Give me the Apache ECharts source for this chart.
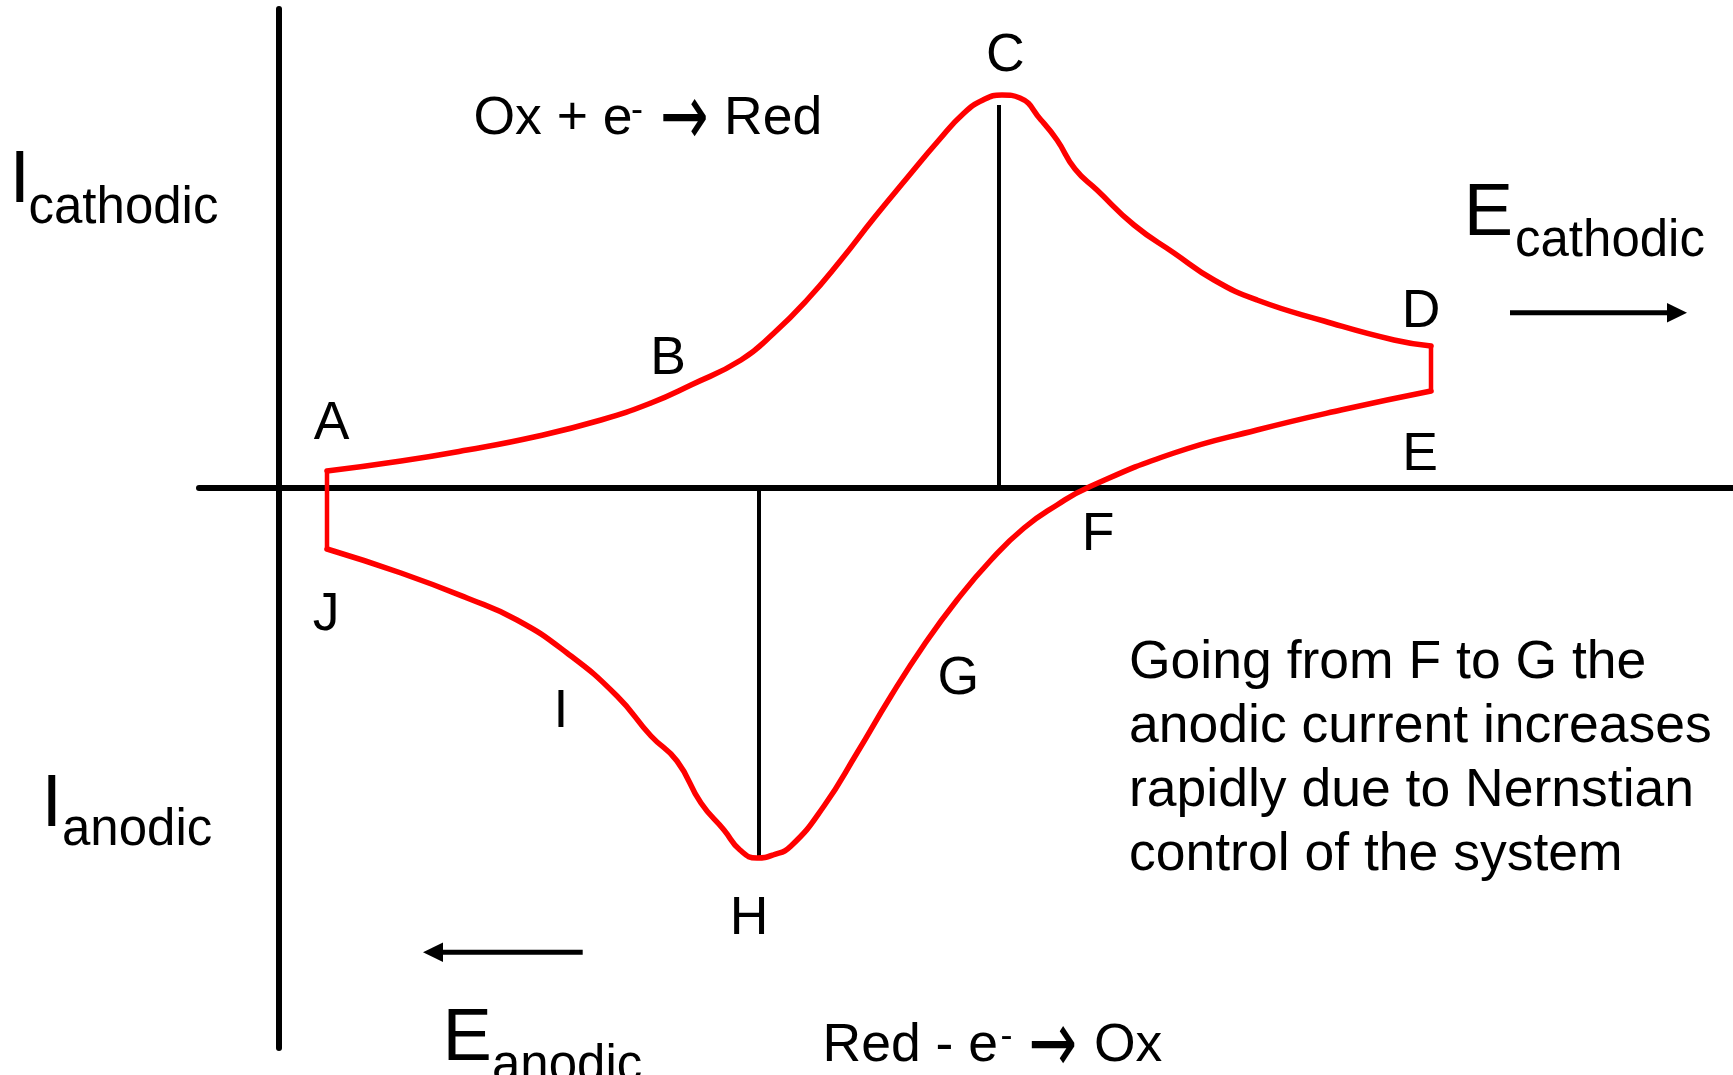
<!DOCTYPE html>
<html>
<head>
<meta charset="utf-8">
<title>Cyclic voltammogram</title>
<script src="https://cdn.jsdelivr.net/npm/echarts@6/dist/echarts.min.js"></script>
<style>
  * { margin: 0; padding: 0; }
  html, body { width: 1733px; height: 1075px; background: #fff; overflow: hidden; }
  #main { width: 1733px; height: 1075px; }
</style>
</head>
<body>
<div id="main"></div>
<script>
// potential (E) and current (I), arbitrary units
const forwardE = [4.8, 12.2, 18.8, 25.5, 32.2, 37.2, 41.2, 46.2, 49.5, 52.8, 56.2, 59.5, 62.8, 66.0, 68.4, 70.4, 72.3, 74.1, 76.2, 77.8, 79.6, 81.8, 85.5, 89.5, 93.5, 97.8, 104.5, 111.5, 115.2]
const forwardI = [1.7, 2.7, 3.8, 5.1, 6.8, 8.5, 10.3, 12.8, 15.5, 18.8, 22.8, 27.0, 31.0, 34.8, 37.4, 38.8, 39.3, 39.0, 36.8, 34.8, 31.9, 29.8, 26.3, 23.5, 20.8, 18.8, 16.7, 14.8, 14.2]
const reverseE = [115.2, 106.2, 97.8, 89.5, 80.8, 77.8, 74.5, 71.2, 67.8, 64.5, 61.2, 57.8, 54.5, 51.2, 49.4, 47.8, 46.1, 44.5, 42.2, 39.8, 37.2, 33.8, 28.8, 23.8, 18.8, 12.2, 4.8]
const reverseI = [9.7, 7.8, 5.8, 3.5, 0.0, -1.7, -4.0, -7.2, -11.2, -15.7, -20.8, -26.5, -31.8, -35.8, -36.7, -37.0, -36.2, -34.2, -31.5, -27.3, -24.8, -20.8, -16.5, -13.2, -11.0, -8.5, -6.1]
// peak markers: [E, I at the peak]
const cathodicPeak = [72.0, 38.3]
const anodicPeak = [48.0, -36.8]

const FONT = '"Liberation Sans", Arial, sans-serif'
const RED = '#ff0000'

const zip = (xs, ys) => xs.map((x, i) => [x, ys[i]])
const forward = zip(forwardE, forwardI)
const reverse = zip(reverseE, reverseI)

// text helper: y is the middle line, baseline sits ~0.35em (+4px) below it
const txt = (x, y, s, fs, align, family) => ({
  type: 'text',
  x: x,
  y: y + 4,
  style: { text: s, fontSize: fs, fontFamily: family || FONT, fill: '#000', align: align || 'left', verticalAlign: 'middle' }
})

// the reaction arrows are a bit taller than the font's own glyph
const arrowGlyph = (x, y) => Object.assign(txt(x, y, '→', 58, 'center', '"DejaVu Sans", sans-serif'), { scaleY: 1.5 })

const letters = [
  txt(331.7, 419.9, 'A', 53.5, 'center'),
  txt(668, 355.6, 'B', 53.5, 'center'),
  txt(1005.3, 52.2, 'C', 53.5, 'center'),
  txt(1421, 308.3, 'D', 53.5, 'center'),
  txt(1420, 451.6, 'E', 53.5, 'center'),
  txt(1098, 530.9, 'F', 53.5, 'center'),
  txt(958.3, 674.9, 'G', 53.5, 'center'),
  txt(749, 914.8, 'H', 53.5, 'center'),
  txt(561, 708.3, 'I', 53.5, 'center'),
  txt(326, 611.6, 'J', 53.5, 'center')
]

const labels = [
  txt(9.6, 177.4, 'I', 74), txt(28.5, 204.7, 'cathodic', 51),
  txt(41.6, 801.6, 'I', 74), txt(62, 827.3, 'anodic', 51),
  txt(1463.7, 210.3, 'E', 74), txt(1515, 237.5, 'cathodic', 51),
  txt(442.5, 1035.4, 'E', 74), txt(492, 1062.7, 'anodic', 51),
  // Ox + e- -> Red
  txt(473.5, 115.6, 'Ox + e', 53.5), txt(631, 106.9, '-', 36),
  arrowGlyph(684.4, 118), txt(724, 115.6, 'Red', 53.5),
  // Red - e- -> Ox
  txt(822.5, 1042.7, 'Red - e', 53.5), txt(1000.5, 1033.1, '-', 36),
  arrowGlyph(1052.8, 1045), txt(1094, 1042.7, 'Ox', 53.5),
  {
    type: 'text',
    x: 1129,
    y: 631.8,
    style: {
      text: 'Going from F to G the\nanodic current increases\nrapidly due to Nernstian\ncontrol of the system',
      fontSize: 53.5, lineHeight: 63.7, fontFamily: FONT, fill: '#000', align: 'left', verticalAlign: 'top'
    }
  }
]

const arrows = [
  { type: 'line', shape: { x1: 1510, y1: 312.7, x2: 1670, y2: 312.7 }, style: { stroke: '#000', lineWidth: 5 } },
  { type: 'polygon', shape: { points: [[1667, 303], [1687, 312.7], [1667, 322.4]] }, style: { fill: '#000' } },
  { type: 'line', shape: { x1: 582.7, y1: 952.3, x2: 440, y2: 952.3 }, style: { stroke: '#000', lineWidth: 5 } },
  { type: 'polygon', shape: { points: [[443, 942.6], [423, 952.3], [443, 962]] }, style: { fill: '#000' } }
]

const myChart = echarts.init(document.getElementById('main'), null, { renderer: 'canvas' })

const axisStyle = {
  type: 'value',
  axisLine: { onZero: true, lineStyle: { color: '#000', width: 6 } },
  axisTick: { show: false },
  axisLabel: { show: false },
  splitLine: { show: false }
}

const redLine = (name, data, smooth, width) => ({
  name: name,
  type: 'line',
  data: data,
  smooth: smooth,
  showSymbol: false,
  z: 3,
  lineStyle: { color: RED, width: width, cap: 'round', join: 'round' }
})

const blackLine = (name, peak) => ({
  name: name,
  type: 'line',
  data: [[peak[0], peak[1]], [peak[0], 0]],
  showSymbol: false,
  z: 1,
  lineStyle: { color: '#000', width: 4 }
})

const option = {
  animation: false,
  backgroundColor: '#fff',
  grid: { left: 199, right: 0, top: 9, bottom: 27 },
  xAxis: Object.assign({ min: -8, max: 145.4 }, axisStyle),
  yAxis: Object.assign({ min: -56, max: 47.9 }, axisStyle),
  series: [
    redLine('forward', forward, 0.5, 5.5),
    redLine('reverse', reverse, 0.5, 5.5),
    redLine('switch', [forward[forward.length - 1], reverse[0]], false, 4.5),
    redLine('start', [reverse[reverse.length - 1], forward[0]], false, 4.5),
    blackLine('cathodic peak', cathodicPeak),
    blackLine('anodic peak', anodicPeak)
  ],
  graphic: letters.concat(labels, arrows)
}

myChart.setOption(option)
</script>
</body>
</html>
